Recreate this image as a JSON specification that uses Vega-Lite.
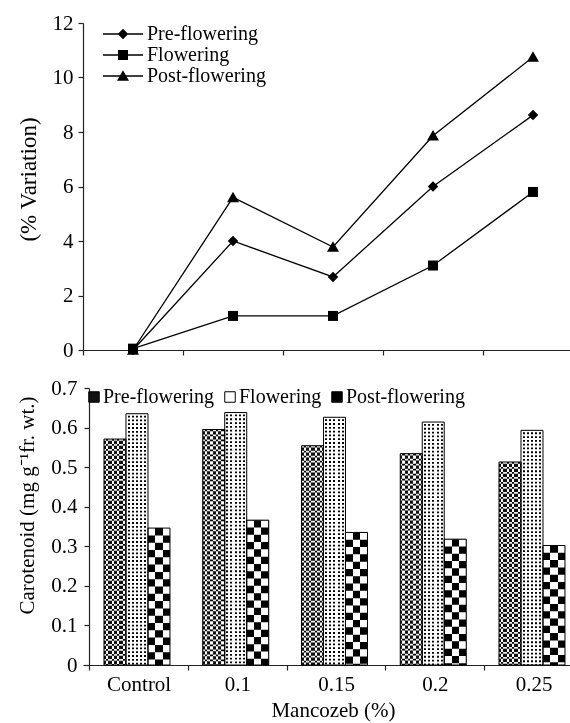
{
  "$schema": "https://vega.github.io/schema/vega-lite/v6.json",
  "background": "white",
  "padding": {"left": 16, "top": 12, "right": -13, "bottom": 2},
  "spacing": 17,
  "config": {
    "font": "Liberation Serif",
    "view": {"stroke": null},
    "axis": {
      "labelFont": "Liberation Serif", "labelFontSize": 21, "labelColor": "black",
      "titleFont": "Liberation Serif", "titleFontSize": 21, "titleFontWeight": "normal", "titleColor": "black",
      "domainColor": "#222", "tickColor": "#222", "domainWidth": 1.2, "tickWidth": 1.2, "grid": false, "tickSize": 5
    },
    "legend": {"labelFont": "Liberation Serif", "labelFontSize": 20, "labelColor": "black", "padding": 0}
  },
  "datasets": {
    "lines": [
      {"dose": "Control", "phase": "Pre-flowering", "value": 0},
      {"dose": "0.1", "phase": "Pre-flowering", "value": 4.0},
      {"dose": "0.15", "phase": "Pre-flowering", "value": 2.68},
      {"dose": "0.2", "phase": "Pre-flowering", "value": 6.0},
      {"dose": "0.25", "phase": "Pre-flowering", "value": 8.62},
      {"dose": "Control", "phase": "Flowering", "value": 0.05},
      {"dose": "0.1", "phase": "Flowering", "value": 1.25},
      {"dose": "0.15", "phase": "Flowering", "value": 1.25},
      {"dose": "0.2", "phase": "Flowering", "value": 3.1},
      {"dose": "0.25", "phase": "Flowering", "value": 5.8},
      {"dose": "Control", "phase": "Post-flowering", "value": 0},
      {"dose": "0.1", "phase": "Post-flowering", "value": 5.6},
      {"dose": "0.15", "phase": "Post-flowering", "value": 3.78},
      {"dose": "0.2", "phase": "Post-flowering", "value": 7.86},
      {"dose": "0.25", "phase": "Post-flowering", "value": 10.75}
    ],
    "bars": [
      {"dose": "Control", "stage": "Pre-flowering", "value": 0.571},
      {"dose": "Control", "stage": "Flowering", "value": 0.635},
      {"dose": "Control", "stage": "Post-flowering", "value": 0.346},
      {"dose": "0.1", "stage": "Pre-flowering", "value": 0.595},
      {"dose": "0.1", "stage": "Flowering", "value": 0.638},
      {"dose": "0.1", "stage": "Post-flowering", "value": 0.366},
      {"dose": "0.15", "stage": "Pre-flowering", "value": 0.554},
      {"dose": "0.15", "stage": "Flowering", "value": 0.626},
      {"dose": "0.15", "stage": "Post-flowering", "value": 0.335},
      {"dose": "0.2", "stage": "Pre-flowering", "value": 0.534},
      {"dose": "0.2", "stage": "Flowering", "value": 0.614},
      {"dose": "0.2", "stage": "Post-flowering", "value": 0.318},
      {"dose": "0.25", "stage": "Pre-flowering", "value": 0.513},
      {"dose": "0.25", "stage": "Flowering", "value": 0.593},
      {"dose": "0.25", "stage": "Post-flowering", "value": 0.302}
    ]
  },
  "vconcat": [
    {
      "width": 500,
      "height": 327,
      "data": {"name": "lines"},
      "encoding": {
        "x": {
          "field": "dose", "type": "nominal", "sort": null,
          "scale": {"type": "band", "domain": ["Control", "0.1", "0.15", "0.2", "0.25"], "paddingInner": 0, "paddingOuter": 0},
          "axis": {"title": null, "labels": false, "tickBand": "extent"}
        },
        "y": {
          "field": "value", "type": "quantitative",
          "scale": {"domain": [0, 12]},
          "axis": {"values": [0, 2, 4, 6, 8, 10, 12], "title": "(% Variation)", "titleFontSize": 23, "titlePadding": 12, "labelPadding": 5, "titleY": 156}
        }
      },
      "layer": [
        {
          "mark": {"type": "line", "color": "black", "strokeWidth": 1.3},
          "encoding": {"detail": {"field": "phase"}}
        },
        {
          "mark": {"type": "point", "filled": true, "color": "black", "opacity": 1, "size": 100},
          "encoding": {
            "shape": {
              "field": "phase", "type": "nominal",
              "scale": {"domain": ["Pre-flowering", "Flowering", "Post-flowering"], "range": ["M0,-1.05L1.05,0L0,1.05L-1.05,0Z", "M-1,-1H1V1H-1Z", "M0,-1.15L1.2,0.95H-1.2Z"]},
              "legend": null
            }
          }
        },
        {
          "transform": [{"filter": "false"}],
          "mark": {"type": "point", "filled": true, "color": "black", "opacity": 1, "size": 100},
          "encoding": {
            "shape": {
              "field": "phase", "type": "nominal",
              "scale": {"domain": ["Pre-flowering", "Flowering", "Post-flowering"], "range": ["M-4,-0.13H4V0.13H-4ZM0,-1.05L1.05,0L0,1.05L-1.05,0Z", "M-4,-0.13H4V0.13H-4ZM-1,-1H1V1H-1Z", "M-4,-0.13H4V0.13H-4ZM0,-1.15L1.2,0.95H-1.2Z"]},
              "legend": {
                "orient": "none", "legendX": 30, "legendY": 1, "title": null, "direction": "vertical",
                "symbolSize": 100, "symbolFillColor": "black", "symbolOpacity": 1, "labelOffset": 14, "rowPadding": 1
              }
            }
          }
        }
      ],
      "resolve": {"scale": {"shape": "independent"}}
    },
    {
      "width": 500,
      "height": 277,
      "data": {"name": "bars"},
      "encoding": {
        "x": {
          "field": "dose", "type": "nominal", "sort": null,
          "scale": {"type": "band", "domain": ["Control", "0.1", "0.15", "0.2", "0.25"], "paddingInner": 0, "paddingOuter": 0.0316, "align": 1},
          "axis": {"title": "Mancozeb (%)", "labelAngle": 0, "tickBand": "extent", "labelPadding": 3, "titlePadding": 5}
        },
        "xOffset": {
          "field": "stage", "type": "nominal", "sort": null,
          "scale": {"domain": ["Pre-flowering", "Flowering", "Post-flowering"], "paddingInner": 0, "paddingOuter": 0.745, "align": 0.45}
        },
        "y": {
          "field": "value", "type": "quantitative",
          "scale": {"domain": [0, 0.7]},
          "axis": {"values": [0, 0.1, 0.2, 0.3, 0.4, 0.5, 0.6, 0.7], "format": ".1~f", "title": "Carotenoid (mg g⁻¹fr. wt.)", "offset": -6, "titlePadding": 13, "labelPadding": 7, "titleY": 117}
        }
      },
      "layer": [
        {
          "mark": {"type": "bar", "strokeWidth": 0},
          "encoding": {
            "fill": {
              "field": "stage", "type": "nominal", "sort": null,
              "scale": {"range": ["#111111", "#ffffff", "#000000"]},
              "legend": {
                "orient": "none", "legendX": 1, "legendY": 364, "title": null, "direction": "horizontal",
                "symbolType": "square", "symbolSize": 110, "symbolStrokeColor": "black", "symbolStrokeWidth": 1,
                "labelOffset": -1, "columnPadding": 5, "labelLimit": 0
              }
            }
          }
        },
        {
          "transform": [{"filter": "datum.stage === 'Pre-flowering'"}],
          "mark": {
            "type": "bar", "strokeWidth": 0,
            "fill": {
              "gradient": "linear", "x1": 0, "y1": 0, "x2": 1, "y2": 0,
              "stops": [
                {"offset": 0, "color": "rgba(255,255,255,0)"}, {"offset": 0.1, "color": "rgba(255,255,255,0)"},
                {"offset": 0.1, "color": "white"}, {"offset": 0.2, "color": "white"},
                {"offset": 0.2, "color": "rgba(255,255,255,0)"}, {"offset": 0.35, "color": "rgba(255,255,255,0)"},
                {"offset": 0.35, "color": "white"}, {"offset": 0.45, "color": "white"},
                {"offset": 0.45, "color": "rgba(255,255,255,0)"}, {"offset": 0.6, "color": "rgba(255,255,255,0)"},
                {"offset": 0.6, "color": "white"}, {"offset": 0.7, "color": "white"},
                {"offset": 0.7, "color": "rgba(255,255,255,0)"}, {"offset": 0.85, "color": "rgba(255,255,255,0)"},
                {"offset": 0.85, "color": "white"}, {"offset": 0.95, "color": "white"},
                {"offset": 0.95, "color": "rgba(255,255,255,0)"}, {"offset": 1, "color": "rgba(255,255,255,0)"}
              ]
            }
          }
        },
        {
          "transform": [{"filter": "datum.stage === 'Pre-flowering'"}],
          "mark": {"type": "rule", "color": "white", "strokeWidth": 22, "strokeCap": "butt", "strokeDash": [1.8, 3.2], "blend": "difference"},
          "encoding": {"y2": {"datum": 0}}
        },
        {
          "transform": [{"filter": "datum.stage === 'Flowering'"}],
          "mark": {
            "type": "bar", "strokeWidth": 0,
            "fill": {
              "gradient": "linear", "x1": 0, "y1": 0, "x2": 1, "y2": 0,
              "stops": [
                {"offset": 0, "color": "rgba(0,0,0,0)"}, {"offset": 0.07, "color": "rgba(0,0,0,0)"},
                {"offset": 0.07, "color": "black"}, {"offset": 0.16, "color": "black"},
                {"offset": 0.16, "color": "rgba(0,0,0,0)"}, {"offset": 0.26, "color": "rgba(0,0,0,0)"},
                {"offset": 0.26, "color": "black"}, {"offset": 0.35, "color": "black"},
                {"offset": 0.35, "color": "rgba(0,0,0,0)"}, {"offset": 0.455, "color": "rgba(0,0,0,0)"},
                {"offset": 0.455, "color": "black"}, {"offset": 0.545, "color": "black"},
                {"offset": 0.545, "color": "rgba(0,0,0,0)"}, {"offset": 0.65, "color": "rgba(0,0,0,0)"},
                {"offset": 0.65, "color": "black"}, {"offset": 0.74, "color": "black"},
                {"offset": 0.74, "color": "rgba(0,0,0,0)"}, {"offset": 0.84, "color": "rgba(0,0,0,0)"},
                {"offset": 0.84, "color": "black"}, {"offset": 0.93, "color": "black"},
                {"offset": 0.93, "color": "rgba(0,0,0,0)"}, {"offset": 1, "color": "rgba(0,0,0,0)"}
              ]
            }
          }
        },
        {
          "transform": [{"filter": "datum.stage === 'Flowering'"}],
          "mark": {"type": "rule", "color": "white", "strokeWidth": 22, "strokeCap": "butt", "strokeDash": [2.0, 1.8]},
          "encoding": {"y2": {"datum": 0}}
        },
        {
          "transform": [{"filter": "datum.stage === 'Post-flowering'"}],
          "mark": {
            "type": "bar", "strokeWidth": 0,
            "fill": {
              "gradient": "linear", "x1": 0, "y1": 0, "x2": 1, "y2": 0,
              "stops": [
                {"offset": 0, "color": "rgba(255,255,255,0)"}, {"offset": 0.333, "color": "rgba(255,255,255,0)"},
                {"offset": 0.333, "color": "white"}, {"offset": 0.667, "color": "white"},
                {"offset": 0.667, "color": "rgba(255,255,255,0)"}, {"offset": 1, "color": "rgba(255,255,255,0)"}
              ]
            }
          }
        },
        {
          "transform": [{"filter": "datum.stage === 'Post-flowering'"}],
          "mark": {"type": "rule", "color": "white", "strokeWidth": 22, "strokeCap": "butt", "strokeDash": [7.3, 7.3], "blend": "difference"},
          "encoding": {"y2": {"datum": 0}}
        },
        {
          "mark": {"type": "bar", "filled": false, "color": "black", "strokeWidth": 1}
        }
      ]
    }
  ]
}
